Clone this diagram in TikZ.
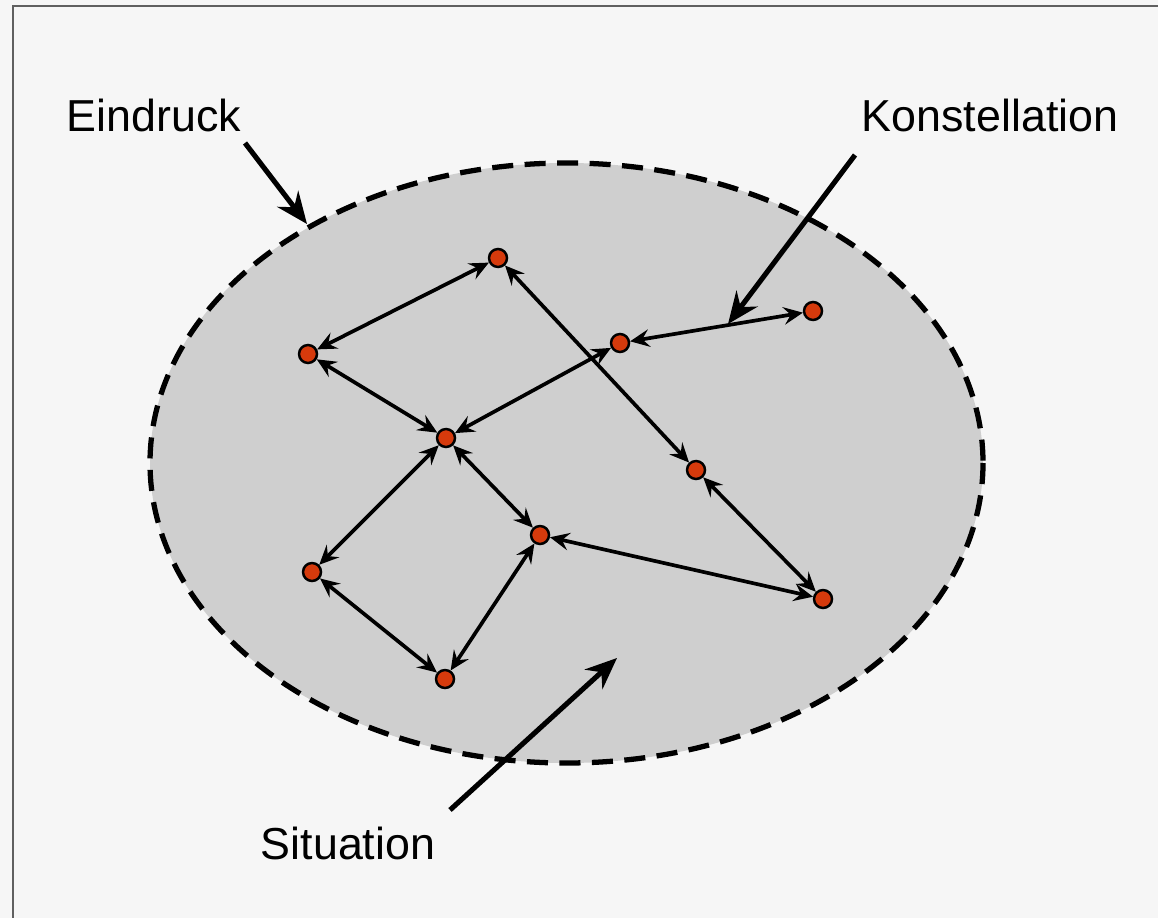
\documentclass[tikz,border=0pt]{standalone}
\usepackage{fontspec}
\setmainfont{Liberation Sans}
\usetikzlibrary{arrows.meta}
\definecolor{bgc}{HTML}{F6F6F6}
\definecolor{ellc}{HTML}{CFCFCF}
\definecolor{dotc}{HTML}{D63A0C}
\definecolor{framec}{HTML}{606060}
\begin{document}
\begin{tikzpicture}[x=0.02cm,y=-0.02cm,
  pt/.style={circle,draw=black,line width=1.4pt,fill=dotc,minimum size=0.36cm,inner sep=0pt},
  link/.style={line width=2.1pt,{Stealth[length=11pt,width=10pt,inset=4pt]}-{Stealth[length=11pt,width=10pt,inset=4pt]}},
  pointer/.style={line width=2.9pt,-{Stealth[length=18pt,width=15pt,inset=6pt]}},
  lbl/.style={font=\fontsize{25.5}{30}\selectfont,inner sep=0pt}]
\useasboundingbox (0,0) rectangle (1158,918);
\fill[bgc] (0,0) rectangle (1158,918);
\draw[framec,line width=1.5pt] (13,918) -- (13,6) -- (1158,6);
\draw[fill=ellc,line width=3pt,dash pattern=on 12pt off 6.5pt] (566.5,463) ellipse [x radius=416.5, y radius=300];
\node[pt] (A) at (498,258) {};
\node[pt] (B) at (308,354) {};
\node[pt] (C) at (620,343) {};
\node[pt] (D) at (813,311) {};
\node[pt] (E) at (446,438) {};
\node[pt] (F) at (696,470) {};
\node[pt] (G) at (540,535) {};
\node[pt] (H) at (312,572) {};
\node[pt] (I) at (823,599) {};
\node[pt] (J) at (445,679) {};
\draw[link] (A) -- (B);
\draw[link] (B) -- (E);
\draw[link] (A) -- (F);
\draw[link] (C) -- (D);
\draw[link] (C) -- (E);
\draw[link] (F) -- (I);
\draw[link] (E) -- (G);
\draw[link] (E) -- (H);
\draw[link] (G) -- (I);
\draw[link] (G) -- (J);
\draw[link] (H) -- (J);
\node[lbl] (eind) at (154,115) {Eindruck};
\node[lbl] (kon) at (990,115) {Konstellation};
\node[lbl] (sit) at (348,843) {Situation};
\coordinate (e0) at (245,143);
\coordinate (e1) at (307,224);
\coordinate (k0) at (855,155);
\coordinate (k1) at (728,324);
\coordinate (s0) at (450,810);
\coordinate (s1) at (617,658);
\draw[pointer] (e0) -- (e1);
\draw[pointer] (k0) -- (k1);
\draw[pointer] (s0) -- (s1);
\end{tikzpicture}
\end{document}
